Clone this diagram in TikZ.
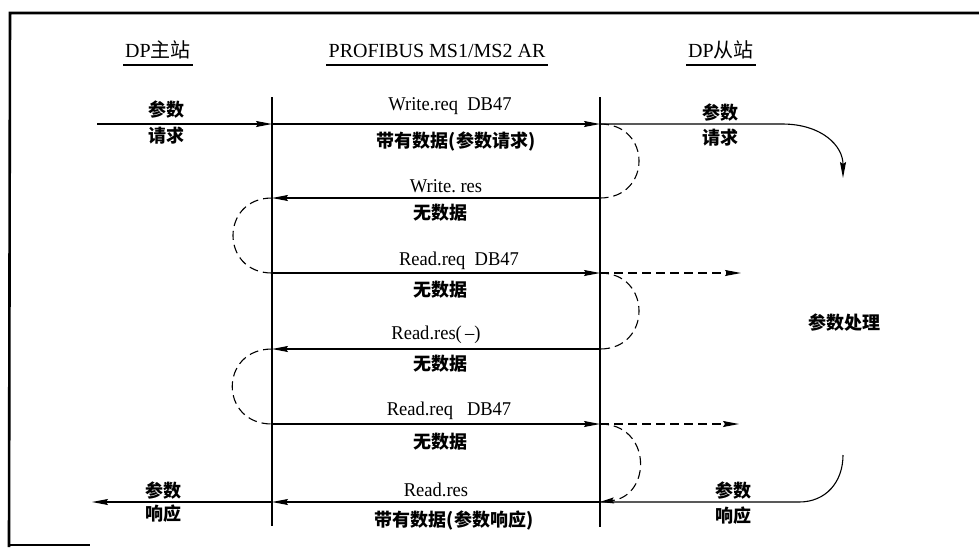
\documentclass[tikz,border=0pt]{standalone}
\usepackage{fontspec}
\setmainfont{Liberation Serif}
\newfontfamily\latc{Liberation Serif}[FakeStretch=0.95]
\newfontfamily\cjk{Noto Sans CJK SC}
\usetikzlibrary{arrows.meta}
\tikzset{
  lifeline/.style={line width=1.4pt},
  msg/.style={line width=1.1pt,-{Stealth[length=16pt,width=6pt,inset=2pt]}},
  plain/.style={line width=1.1pt},
  dashline/.style={line width=1.1pt,dash pattern=on 9pt off 5pt},
  frameline/.style={line width=2.6pt},
  lat/.style={inner sep=0pt,font=\fontsize{19.5}{21}\selectfont\latc},
  hdr/.style={inner sep=0pt,font=\fontsize{20}{22}\selectfont},
  cj/.style={inner sep=0pt,font=\fontsize{18}{20}\selectfont\cjk\bfseries},
}
\begin{document}
\begin{tikzpicture}[x=1pt,y=-1pt]
\useasboundingbox (0,0) rectangle (979,547);
% frame
\draw[frameline] (979,13) -- (10,13) -- (9,547);
\draw[line width=1.4pt] (9,545) -- (90,545);
% headers
\coordinate (ul) at (0,65);
\node[hdr,anchor=base] (hM) at (158,57) {DP{\cjk 主站}};
\node[hdr,anchor=base] (hA) at (437,57) {PROFIBUS MS1/MS2 AR};
\node[hdr,anchor=base] (hS) at (721,57) {DP{\cjk 从站}};
\draw[line width=1.2pt] ([xshift=-2pt]hM.west |- ul) -- ([xshift=2pt]hM.east |- ul);
\draw[line width=1.2pt] ([xshift=-2pt]hA.west |- ul) -- ([xshift=2pt]hA.east |- ul);
\draw[line width=1.2pt] ([xshift=-2pt]hS.west |- ul) -- ([xshift=2pt]hS.east |- ul);
% lifelines
\coordinate (mT) at (272,97);
\coordinate (mB) at (272,526);
\coordinate (sT) at (600,97);
\coordinate (sB) at (600,527);
\draw[lifeline] (mT) -- (mB);
\draw[lifeline] (sT) -- (sB);
% row coordinates
\coordinate (m1) at (272,124); \coordinate (s1) at (600,124);
\coordinate (m2) at (272,198); \coordinate (s2) at (600,198);
\coordinate (m3) at (272,273); \coordinate (s3) at (600,273);
\coordinate (m4) at (272,349); \coordinate (s4) at (600,349);
\coordinate (m5) at (272,424); \coordinate (s5) at (600,424);
\coordinate (m6) at (272,502); \coordinate (s6) at (600,502);
\coordinate (a0) at (97,124);
\coordinate (r1a) at (782,124);
\coordinate (r1e) at (843,178);
\coordinate (d3) at (741,273);
\coordinate (d5) at (739,424);
\coordinate (r6s) at (843,455);
\coordinate (r6a) at (799,502);
\coordinate (l6) at (92,502);
% row 1
\draw[msg] (a0) -- (m1);
\draw[msg] (m1) -- (s1);
\draw[msg] (s1) -- (r1a) .. controls (822,124) and (843,146) .. (r1e);
% row 2
\draw[msg] (s2) -- (m2);
% row 3
\draw[msg] (m3) -- (s3);
\draw[dashline,-{Stealth[length=16pt,width=6pt,inset=2pt]}] (s3) -- (d3);
% row 4
\draw[msg] (s4) -- (m4);
% row 5
\draw[msg] (m5) -- (s5);
\draw[dashline,-{Stealth[length=16pt,width=6pt,inset=2pt]}] (s5) -- (d5);
% row 6
\draw[plain] (r6s) .. controls (843,482) and (826,502) .. (r6a) -- (s6);
\draw[msg] (s6) -- (m6);
\draw[msg] (m6) -- (l6);
% dashed loops
\draw[dashline] (s1) .. controls (652,124) and (652,198) .. (s2);
\draw[dashline] (m2) .. controls (220,198) and (220,273) .. (m3);
\draw[dashline] (s3) .. controls (652,273) and (652,349) .. (s4);
\draw[dashline] (m4) .. controls (219,349) and (219,424) .. (m5);
\draw[dashline,-{Stealth[length=14pt,width=6pt,inset=2pt]}] (s5) .. controls (652,424) and (652,496) .. (s6);
% message labels
\node[lat] (t1a) at (450,106) {Write.req\ \ DB47};
\node[cj]  (t1b) at (456,141) {带有数据(参数请求)};
\node[lat] (t2a) at (446,186) {Write.\ res};
\node[cj]  (t2b) at (440,213) {无数据};
\node[lat] (t3a) at (459,261) {Read.req\ \ DB47};
\node[cj]  (t3b) at (440,290) {无数据};
\node[lat] (t4a) at (436,335) {Read.res(\,–)};
\node[cj]  (t4b) at (440,364) {无数据};
\node[lat] (t5a) at (449,411) {Read.req\ \ \ DB47};
\node[cj]  (t5b) at (440,442) {无数据};
\node[lat] (t6a) at (436,490) {Read.res};
\node[cj]  (t6b) at (454,520) {带有数据(参数响应)};
% side labels
\node[cj] (lq1) at (166,110) {参数};
\node[cj] (lq2) at (166,136) {请求};
\node[cj] (rq1) at (720,113) {参数};
\node[cj] (rq2) at (720,138) {请求};
\node[cj] (proc) at (844,323) {参数处理};
\node[cj] (lr1) at (163,491) {参数};
\node[cj] (lr2) at (163,514) {响应};
\node[cj] (rr1) at (733,491) {参数};
\node[cj] (rr2) at (733,516) {响应};
\end{tikzpicture}
\end{document}
